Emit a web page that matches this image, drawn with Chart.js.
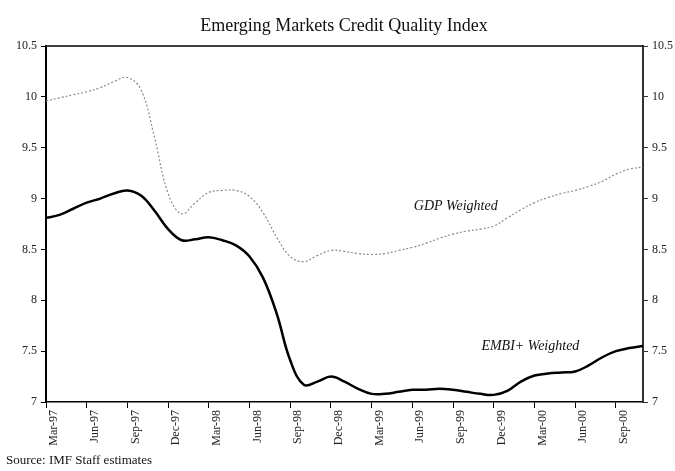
<!DOCTYPE html>
<html>
<head>
<meta charset="utf-8">
<script src="https://cdn.jsdelivr.net/npm/chart.js@4"></script>
<style>
  body { margin: 0; background: #fff; }
  #chart { display: block; }
</style>
</head>
<body>
<canvas id="chart" width="675" height="471"></canvas>
<script>
// quarterly tick labels, one every 3 months starting Mar-97
const quarterLabels = ['Mar-97', 'Jun-97', 'Sep-97', 'Dec-97', 'Mar-98', 'Jun-98', 'Sep-98', 'Dec-98',
    'Mar-99', 'Jun-99', 'Sep-99', 'Dec-99', 'Mar-00', 'Jun-00', 'Sep-00'];

// monthly values, Mar-97 .. Nov-00
const gdpWeighted = [9.96, 9.99, 10.02, 10.05, 10.09, 10.15, 10.19, 10.07, 9.60, 9.05,
    8.85, 8.96, 9.06, 9.08, 9.08, 9.02, 8.86, 8.62, 8.43, 8.38,
    8.44, 8.49, 8.48, 8.46, 8.45, 8.46, 8.49, 8.52, 8.56, 8.61,
    8.65, 8.68, 8.70, 8.73, 8.81, 8.89, 8.96, 9.01, 9.05, 9.08,
    9.12, 9.17, 9.24, 9.29, 9.31];

const embiWeighted = [8.81, 8.84, 8.90, 8.96, 9.00, 9.05, 9.08, 9.03, 8.88, 8.70,
    8.59, 8.60, 8.62, 8.59, 8.54, 8.43, 8.22, 7.87, 7.41, 7.17,
    7.20, 7.25, 7.20, 7.13, 7.08, 7.08, 7.10, 7.12, 7.12, 7.13,
    7.12, 7.10, 7.08, 7.07, 7.11, 7.20, 7.26, 7.28, 7.29, 7.30,
    7.36, 7.44, 7.50, 7.53, 7.55];

const FONT = '"Liberation Serif", "Times New Roman", serif';

const toPoints = arr => arr.map((v, i) => ({ x: i, y: v }));

const extras = {
    id: 'extras',
    afterDraw(chart) {
        const c = chart.ctx, a = chart.chartArea;
        const x = chart.scales.x, y = chart.scales.y;
        c.save();
        // top border of plot area
        c.strokeStyle = '#000';
        c.lineWidth = 1.5;
        c.beginPath();
        c.moveTo(a.left, a.top);
        c.lineTo(a.right, a.top);
        c.stroke();

        c.fillStyle = '#111';
        c.textAlign = 'center';
        c.textBaseline = 'middle';
        c.font = '18px ' + FONT;
        c.fillText('Emerging Markets Credit Quality Index', 344, 26);

        c.font = 'italic 14px ' + FONT;
        c.fillText('GDP Weighted', x.getPixelForValue(30.2), y.getPixelForValue(8.92));
        c.fillText('EMBI+ Weighted', x.getPixelForValue(35.7), y.getPixelForValue(7.55));

        c.textAlign = 'left';
        c.font = '13px ' + FONT;
        c.fillText('Source: IMF Staff estimates', 6, 461);
        c.restore();
    }
};

const yTicks = {
    stepSize: 0.5,
    color: '#222',
    font: { family: FONT, size: 12 },
    padding: 4,
    callback: v => String(v)
};

new Chart(document.getElementById('chart'), {
    type: 'line',
    data: {
        datasets: [{
            label: 'GDP Weighted',
            data: toPoints(gdpWeighted),
            borderColor: '#8a8a8a',
            borderWidth: 1.2,
            borderDash: [2, 2],
            pointRadius: 0,
            tension: 0.4,
            yAxisID: 'y'
        }, {
            label: 'EMBI+ Weighted',
            data: toPoints(embiWeighted),
            borderColor: '#000',
            borderWidth: 2.5,
            pointRadius: 0,
            tension: 0.4,
            yAxisID: 'y'
        }]
    },
    options: {
        responsive: false,
        animation: false,
        layout: { padding: { top: 46, left: 0, right: 0, bottom: 0 } },
        plugins: {
            legend: { display: false },
            title: { display: false },
            tooltip: { enabled: false }
        },
        scales: {
            x: {
                type: 'linear',
                min: 0,
                max: 44,
                afterBuildTicks: s => { s.ticks = quarterLabels.map((_, i) => ({ value: i * 3 })); },
                afterFit: s => { s.height = 69; },
                ticks: {
                    autoSkip: false,
                    minRotation: 90,
                    maxRotation: 90,
                    labelOffset: 8,
                    padding: 2,
                    color: '#222',
                    font: { family: FONT, size: 12 },
                    callback: v => quarterLabels[v / 3]
                },
                grid: { drawOnChartArea: false, tickLength: 6, color: '#000' },
                border: { color: '#000', width: 1.5 }
            },
            y: {
                position: 'left',
                min: 7,
                max: 10.5,
                afterFit: s => { s.width = 46; },
                ticks: yTicks,
                grid: { drawOnChartArea: false, tickLength: 5, color: '#000' },
                border: { color: '#000', width: 2 }
            },
            y1: {
                position: 'right',
                min: 7,
                max: 10.5,
                afterFit: s => { s.width = 32; },
                ticks: yTicks,
                grid: { drawOnChartArea: false, tickLength: 5, color: '#333' },
                border: { color: '#333', width: 2 }
            }
        }
    },
    plugins: [extras]
});
</script>
</body>
</html>
